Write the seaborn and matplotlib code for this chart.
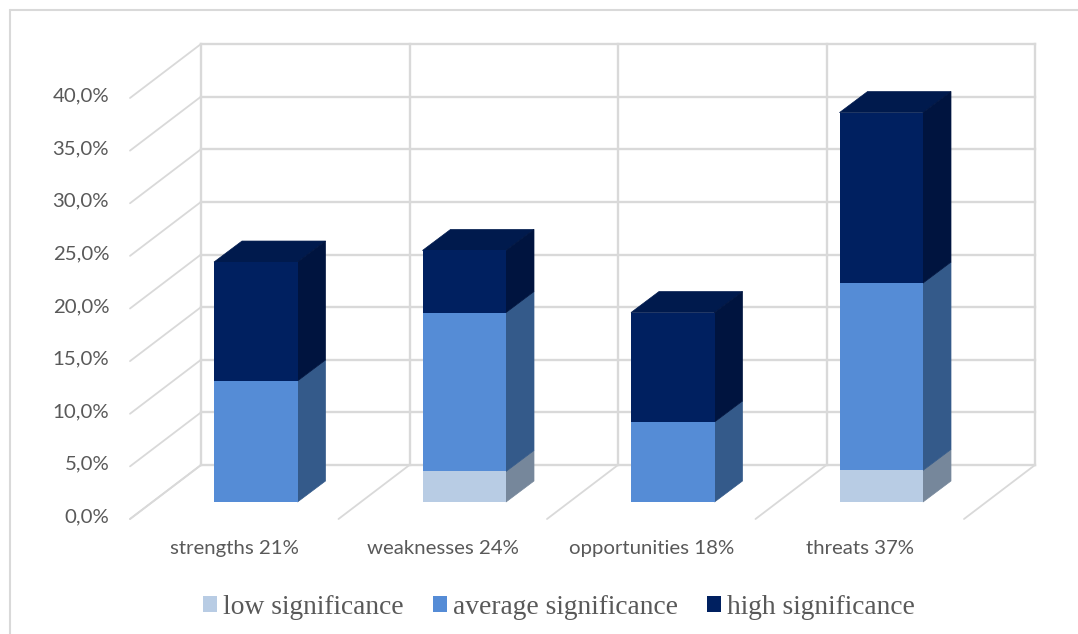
import matplotlib
matplotlib.use("Agg")
import matplotlib.pyplot as plt
import numpy as np
import pandas as pd
import seaborn as sns
from matplotlib.patches import Patch
from matplotlib.transforms import ScaledTranslation

# Survey shares in percent, by SWOT group and significance level
categories = ["strengths 21%", "weaknesses 24%", "opportunities 18%", "threats 37%"]
low_significance = [0.0, 2.9, 0.0, 3.0]
average_significance = [11.5, 15.1, 7.6, 17.8]
high_significance = [11.3, 5.9, 10.4, 16.2]
y_ticks = [0, 5, 10, 15, 20, 25, 30, 35, 40]
series_names = ["low significance", "average significance", "high significance"]

FIG_W, FIG_H = 1078, 634
DPI = 100
PX_X = 208.5   # pixels per category
PX_Y = 10.525  # pixels per percentage point
GRID = "#D9D9D9"
TEXT = "#595959"

front_colors = ["#B8CCE4", "#558CD6", "#002060"]
side_colors = ["#76879B", "#345A8A", "#00143F"]
top_color = "#001A4D"

sns.set_theme(style="white")
fig = plt.figure(figsize=(FIG_W / DPI, FIG_H / DPI), dpi=DPI)
fig.patch.set_facecolor("white")

# Plot box spans the floor's front-left corner to the back wall's top-right
left, right, bottom, top = 130, 1035, 519, 44
ax = fig.add_axes([left / FIG_W, 1 - bottom / FIG_H, (right - left) / FIG_W, (bottom - top) / FIG_H])
ax.patch.set_alpha(0)

# Oblique depth of the room and of the columns, in data units
room_dx, room_dy = 71 / PX_X, 54 / PX_Y
bar_shift_x, bar_shift_y = 21.5 / PX_X, 17 / PX_Y
bar_dx, bar_dy = 28 / PX_X, 21 / PX_Y
bar_width = 83.5 / PX_X

n = len(categories)
front_x = np.arange(n) + 0.5
bar_x = front_x + bar_shift_x

# Back wall and side wall gridlines
grid_kw = dict(color=GRID, lw=1.7, zorder=0.5, solid_capstyle="projecting", clip_on=False)
diag_kw = dict(color=GRID, lw=1.3, zorder=0.5, clip_on=False)
for v in y_ticks:
    ax.plot([room_dx, n + room_dx], [v + room_dy] * 2, **grid_kw)
    ax.plot([0, room_dx], [v, v + room_dy], **diag_kw)
for i in range(n + 1):
    ax.plot([i + room_dx] * 2, [room_dy, y_ticks[-1] + room_dy], **grid_kw)
    ax.plot([i, i + room_dx], [0, room_dy], **diag_kw)

# Stacked front faces: totals first, each lower level painted over the last
levels = np.array([low_significance, average_significance, high_significance])
tops = levels.cumsum(axis=0)
for k in (2, 1, 0):
    frame = pd.DataFrame({"x": bar_x, "share": tops[k]})
    sns.barplot(data=frame, x="x", y="share", native_scale=True, width=bar_width,
                color=front_colors[k], saturation=1, ax=ax, legend=False,
                zorder=3, linewidth=0, errorbar=None)

# The column floor sits in front of the wall: raise the faces by the depth offset
for bar in ax.patches:
    bar.set_y(bar.get_y() + bar_shift_y)

# Side and top faces of every column
for i in range(n):
    xl = bar_x[i] - bar_width / 2
    xr = bar_x[i] + bar_width / 2
    base = 0.0
    for k in range(3):
        t = tops[k, i]
        if levels[k, i] > 0:
            ax.fill([xr, xr + bar_dx, xr + bar_dx, xr],
                    [base + bar_shift_y, base + bar_shift_y + bar_dy,
                     t + bar_shift_y + bar_dy, t + bar_shift_y],
                    facecolor=side_colors[k], edgecolor=side_colors[k], lw=0.5, zorder=2.5)
        base = t
    ax.fill([xl, xl + bar_dx, xr + bar_dx, xr],
            [base + bar_shift_y, base + bar_shift_y + bar_dy,
             base + bar_shift_y + bar_dy, base + bar_shift_y],
            facecolor=top_color, edgecolor=top_color, lw=0.5, zorder=2.4)

ax.set_xlim(0, (right - left) / PX_X)
ax.set_ylim(0, (bottom - top) / PX_Y)
sns.despine(ax=ax, left=True, bottom=True)
ax.set_xlabel("")
ax.set_ylabel("")
ax.set_xticks(front_x, categories)
ax.set_yticks(y_ticks, [f"{v},0%" for v in y_ticks])
ax.tick_params(axis="x", length=0, pad=15, labelsize=14.7, labelcolor=TEXT)
ax.tick_params(axis="y", length=0, pad=15, labelsize=14.7, labelcolor=TEXT)
for lab in ax.get_xticklabels() + ax.get_yticklabels():
    lab.set_fontfamily("Lato")
nudge = ScaledTranslation(0, 3.5 / DPI, fig.dpi_scale_trans)
for lab in ax.get_yticklabels():
    lab.set_transform(lab.get_transform() + nudge)

# Chart frame: only the top and left edges fall inside the canvas
fig.add_artist(plt.Line2D([10 / FIG_W, 10 / FIG_W], [0, 1 - 10 / FIG_H], color=GRID, lw=1.5))
fig.add_artist(plt.Line2D([10 / FIG_W, 1], [1 - 10 / FIG_H] * 2, color=GRID, lw=1.5))

handles = [Patch(color=c, lw=0) for c in front_colors]
fig.legend(handles, series_names, ncol=3, loc="center", bbox_to_anchor=(559 / FIG_W, 1 - 607 / FIG_H),
           frameon=False, prop={"family": "Liberation Serif", "size": 19.8}, labelcolor=TEXT,
           handlelength=0.51, handleheight=0.51, handletextpad=0.22, columnspacing=1.05)

fig.savefig("out.png", dpi=DPI)
